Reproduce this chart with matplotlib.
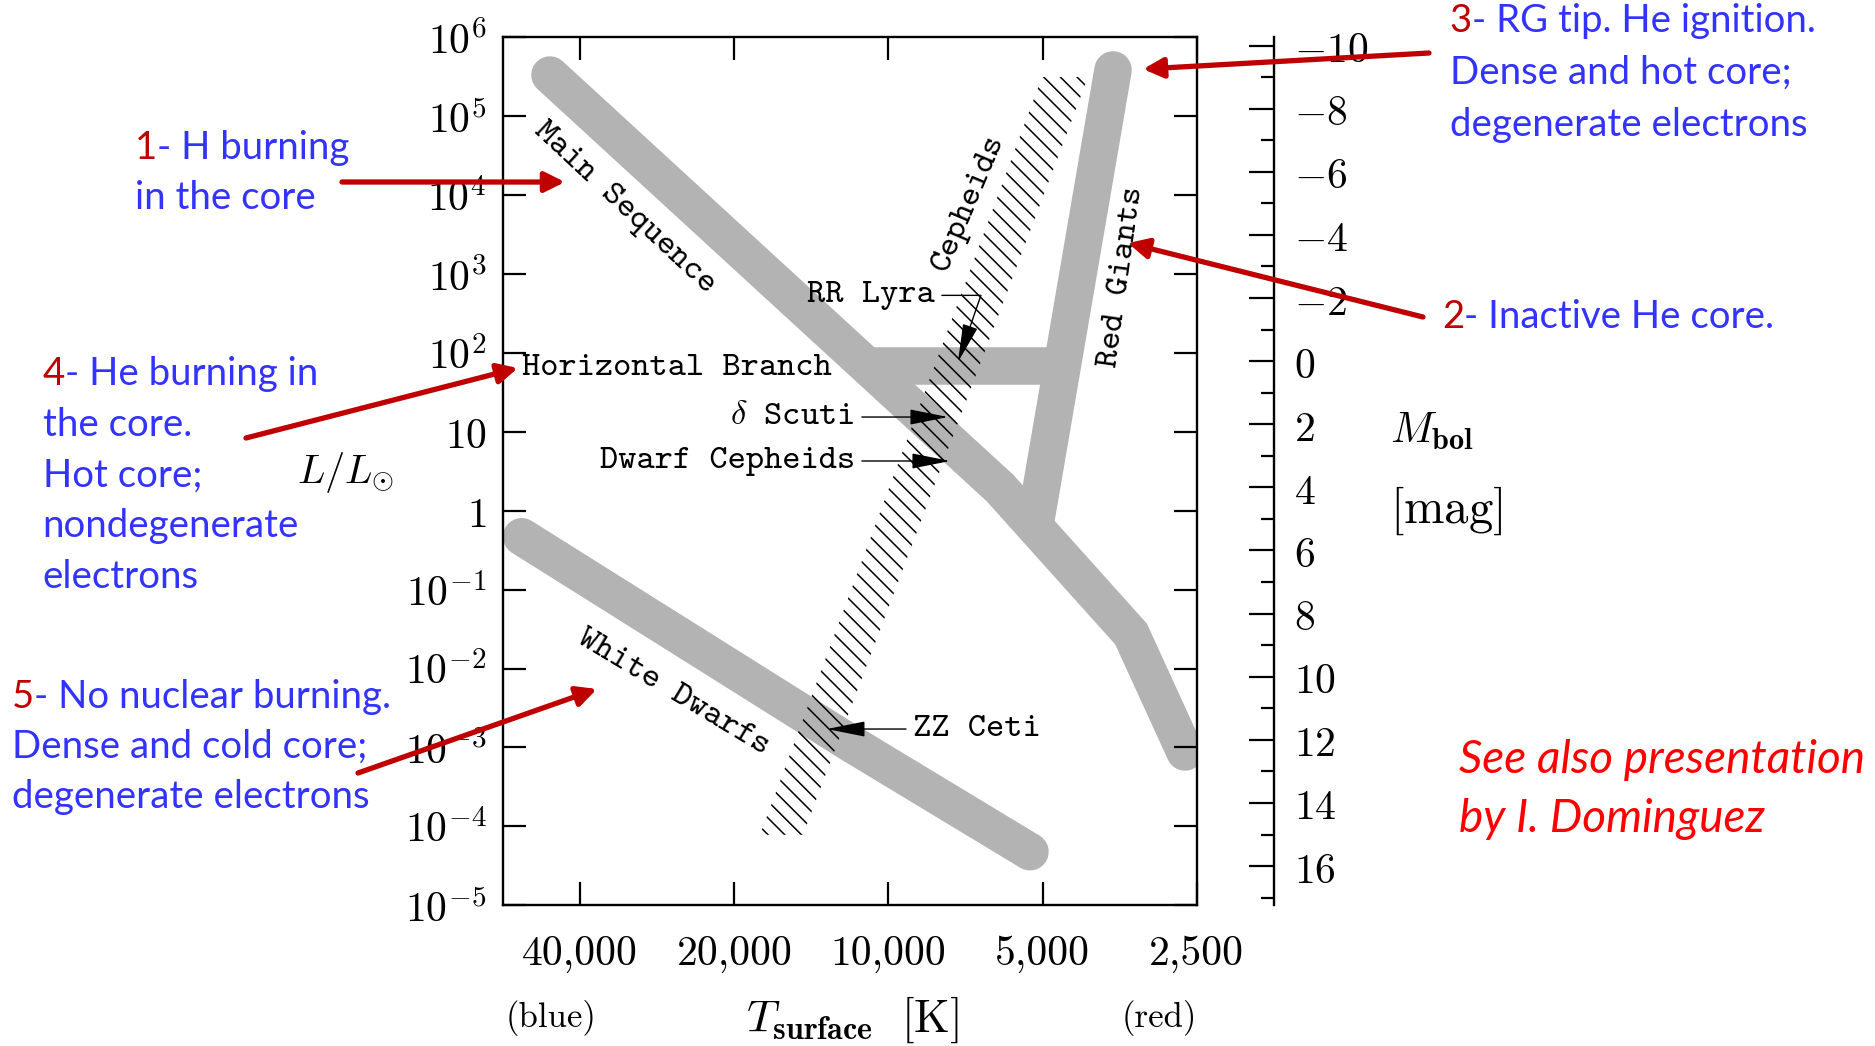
import matplotlib
matplotlib.use("Agg")
import matplotlib.pyplot as plt
from matplotlib.ticker import FixedLocator, NullLocator, MultipleLocator

plt.rcParams['mathtext.fontset'] = 'cm'
plt.rcParams['hatch.linewidth'] = 1.1

# HR diagram sketch (T in K, L in L_sun)
ms_T = [45850, 6055, 3358, 2634]            # main sequence
ms_L = [3.33e5, 1.94, 2.74e-2, 8.75e-4]
rg_T = [3641, 5173]                          # red giant branch
rg_L = [3.86e5, 0.66]
hb_T = [11020, 4580]                         # horizontal branch
hb_L = [68, 68]
wd_T = [52070, 11890, 5290]                  # white dwarfs
wd_L = [0.468, 1.14e-3, 4.76e-5]
strip_T = [17820, 14690, 4075, 5012]         # instability strip
strip_L = [7.8e-5, 7.8e-5, 3.14e5, 3.14e5]

T_ticks = [40000, 20000, 10000, 5000, 2500]
T_labels = ['40,000', '20,000', '10,000', '5,000', '2,500']
L_ticks = [1e-5, 1e-4, 1e-3, 1e-2, 1e-1, 1, 10, 1e2, 1e3, 1e4, 1e5, 1e6]
L_labels = [r'$10^{-5}$', r'$10^{-4}$', r'$10^{-3}$', r'$10^{-2}$', r'$10^{-1}$',
            r'$1$', r'$10$', r'$10^{2}$', r'$10^{3}$', r'$10^{4}$', r'$10^{5}$', r'$10^{6}$']
M_ticks = [-10, -8, -6, -4, -2, 0, 2, 4, 6, 8, 10, 12, 14, 16]
M_sun = 4.74

# small pointers inside the diagram: label, target (T, L)
var_names = [r'$\delta$ Scuti', 'Dwarf Cepheids', 'ZZ Ceti']
var_T = [7649, 7581, 13190]
var_L = [15.4, 4.27, 1.71e-3]
rr_T, rr_L = 7315, 76.8

# the five numbered notes: number, first line, other lines
note_num = ['1', '2', '3', '4', '5']
note_first = ['- H burning', '- Inactive He core.', '- RG tip. He ignition.',
              '- He burning in', '- No nuclear burning.']
note_rest = [['in the core'], [], ['Dense and hot core;', 'degenerate electrons'],
             ['the core.', 'Hot core;', 'nondegenerate', 'electrons'],
             ['Dense and cold core;', 'degenerate electrons']]
note_T = [42860, 3404, 3181, 52950, 37110]      # where the red arrows point
note_L = [1.466e4, 2470, 3.96e5, 64.4, 5.5e-3]

W, H = 1875, 1046
fx = lambda x: x / W
fy = lambda y: 1 - y / H
red = '#c00000'
blue = '#3333ff'
grey = '#b3b3b3'

fig = plt.figure(figsize=(18.75, 10.46), dpi=100)
ax = fig.add_axes([0.2684, 0.1346, 0.3698, 0.8297])
ax.set_xscale('log')
ax.set_yscale('log')
ax.set_xlim(40000 * 2 ** 0.5, 2500)
ax.set_ylim(1e-5, 1e6)

band = dict(color=grey, lw=27, solid_capstyle='round', solid_joinstyle='miter', zorder=1)
ax.plot(ms_T, ms_L, **band)
ax.plot(rg_T, rg_L, **band)
ax.plot(wd_T, wd_L, **band)
ax.plot(hb_T, hb_L, color=grey, lw=27, solid_capstyle='butt', zorder=1)
ax.fill(strip_T, strip_L, facecolor='none', edgecolor='black', hatch='\\\\', lw=0, zorder=2)

# axes, ticks
for s in ax.spines.values():
    s.set_linewidth(1.7)
ax.xaxis.set_major_locator(FixedLocator(T_ticks))
ax.xaxis.set_minor_locator(NullLocator())
ax.set_xticklabels(T_labels, fontfamily='cmr10', fontsize=30)
ax.yaxis.set_major_locator(FixedLocator(L_ticks))
ax.yaxis.set_minor_locator(NullLocator())
ax.set_yticklabels(L_labels, fontsize=30)

ax2 = ax.twinx()
ax2.set_ylim(M_sun + 2.5 * 5, M_sun - 2.5 * 6)
for k in ['left', 'top', 'bottom']:
    ax2.spines[k].set_visible(False)
ax2.spines['right'].set_position(('outward', 55.4))
ax2.spines['right'].set_linewidth(1.7)
ax2.yaxis.set_major_locator(FixedLocator(M_ticks))
ax2.yaxis.set_minor_locator(MultipleLocator(1))
ax2.set_yticklabels([r'$%d$' % m for m in M_ticks], fontsize=30)
ax2.tick_params(axis='y', which='major', direction='in', length=18, width=1.6, pad=15)
ax2.tick_params(axis='y', which='minor', direction='in', length=9.4, width=1.6)

ax.tick_params(axis='both', which='major', direction='in', length=16.5, width=1.6,
               top=True, bottom=True, left=True, right=True)
ax.tick_params(axis='x', pad=22)
ax.tick_params(axis='y', pad=12, labelright=False)

# labels in the diagram
lab = dict(fontfamily='cmtt10', fontsize=25, color='black', zorder=4)
ax.text(0.1755, 0.8033, 'Main Sequence', rotation=-43, ha='center', va='center',
        rotation_mode='anchor', transform=ax.transAxes, **lab)
ax.text(0.6716, 0.8091, 'Cepheids', rotation=67, ha='center', va='center',
        rotation_mode='anchor', transform=ax.transAxes, **lab)
ax.text(0.8930, 0.7238, 'Red Giants', rotation=82, ha='center', va='center',
        rotation_mode='anchor', transform=ax.transAxes, **lab)
ax.text(0.2447, 0.2445, 'White Dwarfs', rotation=-31, ha='center', va='center',
        rotation_mode='anchor', transform=ax.transAxes, **lab)
ax.text(0.0265, 0.6107, 'Horizontal Branch', ha='left', va='baseline',
        transform=ax.transAxes, **lab)

arw = dict(arrowstyle='-|>,head_length=1.6,head_width=0.32', color='black', lw=1.0,
           mutation_scale=15, shrinkA=3, shrinkB=0)
ax.annotate('RR Lyra', xy=(rr_T, rr_L), xytext=(0.6226, 0.7027), textcoords='axes fraction',
            ha='right', va='center', arrowprops=dict(arw, connectionstyle='angle,angleA=0,angleB=71,rad=0'), **lab)
var_xy = [(0.5072, 0.5625, 'right'), (0.5072, 0.5118, 'right'), (0.5909, 0.2030, 'left')]
for name, t, l, (px, py, ha) in zip(var_names, var_T, var_L, var_xy):
    ax.annotate(name, xy=(t, l), xytext=(px, py), textcoords='axes fraction',
                ha=ha, va='center', arrowprops=arw, **lab)

# axis titles
fig.text(fx(296.7), fy(483), r'$L/L_{\odot}$', fontsize=29, va='baseline')
fig.text(fx(1390), fy(443), r'$M_{\mathbf{bol}}$', fontsize=31, va='baseline')
fig.text(fx(1390), fy(523), r'$\mathrm{[mag]}$', fontsize=35, va='baseline')
fig.text(fx(852), fy(1032), r'$T_{\mathbf{surface}}\ \ \mathrm{[K]}$', fontsize=33,
         ha='center', va='baseline')
fig.text(fx(551), fy(1027), '(blue)', fontfamily='cmr10', fontsize=25, ha='center', va='baseline')
fig.text(fx(1159.5), fy(1027), '(red)', fontfamily='cmr10', fontsize=25, ha='center', va='baseline')

# numbered notes with red arrows
note_xy = [(135, 159.3, 50), (1442, 328, 51), (1449.7, 32, 52), (42.7, 385, 50.7), (11.7, 708, 50)]
note_tail = [(342, 182), (1423, 317), (1429, 53), (246, 438), (358, 773)]
txt = dict(fontfamily='Lato', fontsize=27.6)
for i in range(5):
    x, y, dy = note_xy[i]
    t = fig.text(fx(x), fy(y), note_num[i], color=red, va='baseline', **txt)
    ax2.annotate(note_first[i], xy=(1, 0), xycoords=t, ha='left', va='bottom', color=blue,
                 annotation_clip=False, **txt)
    for j, line in enumerate(note_rest[i]):
        fig.text(fx(x), fy(y + (j + 1) * dy), line, color=blue, va='baseline', **txt)
    ax2.annotate('', xy=(note_T[i], note_L[i]), xycoords=ax.transData,
                 xytext=(fx(note_tail[i][0]), fy(note_tail[i][1])), textcoords='figure fraction',
                 arrowprops=dict(arrowstyle='-|>,head_length=0.6,head_width=0.3', color=red,
                                 lw=3.8, mutation_scale=20, shrinkA=0, shrinkB=0),
                 annotation_clip=False, zorder=6)

fig.text(fx(1459), fy(773), 'See also presentation', color='#ff0000', fontfamily='Lato',
         fontstyle='italic', fontsize=33, va='baseline')
fig.text(fx(1459), fy(832), 'by I. Dominguez', color='#ff0000', fontfamily='Lato',
         fontstyle='italic', fontsize=33, va='baseline')

fig.savefig('out.png', dpi=100)
